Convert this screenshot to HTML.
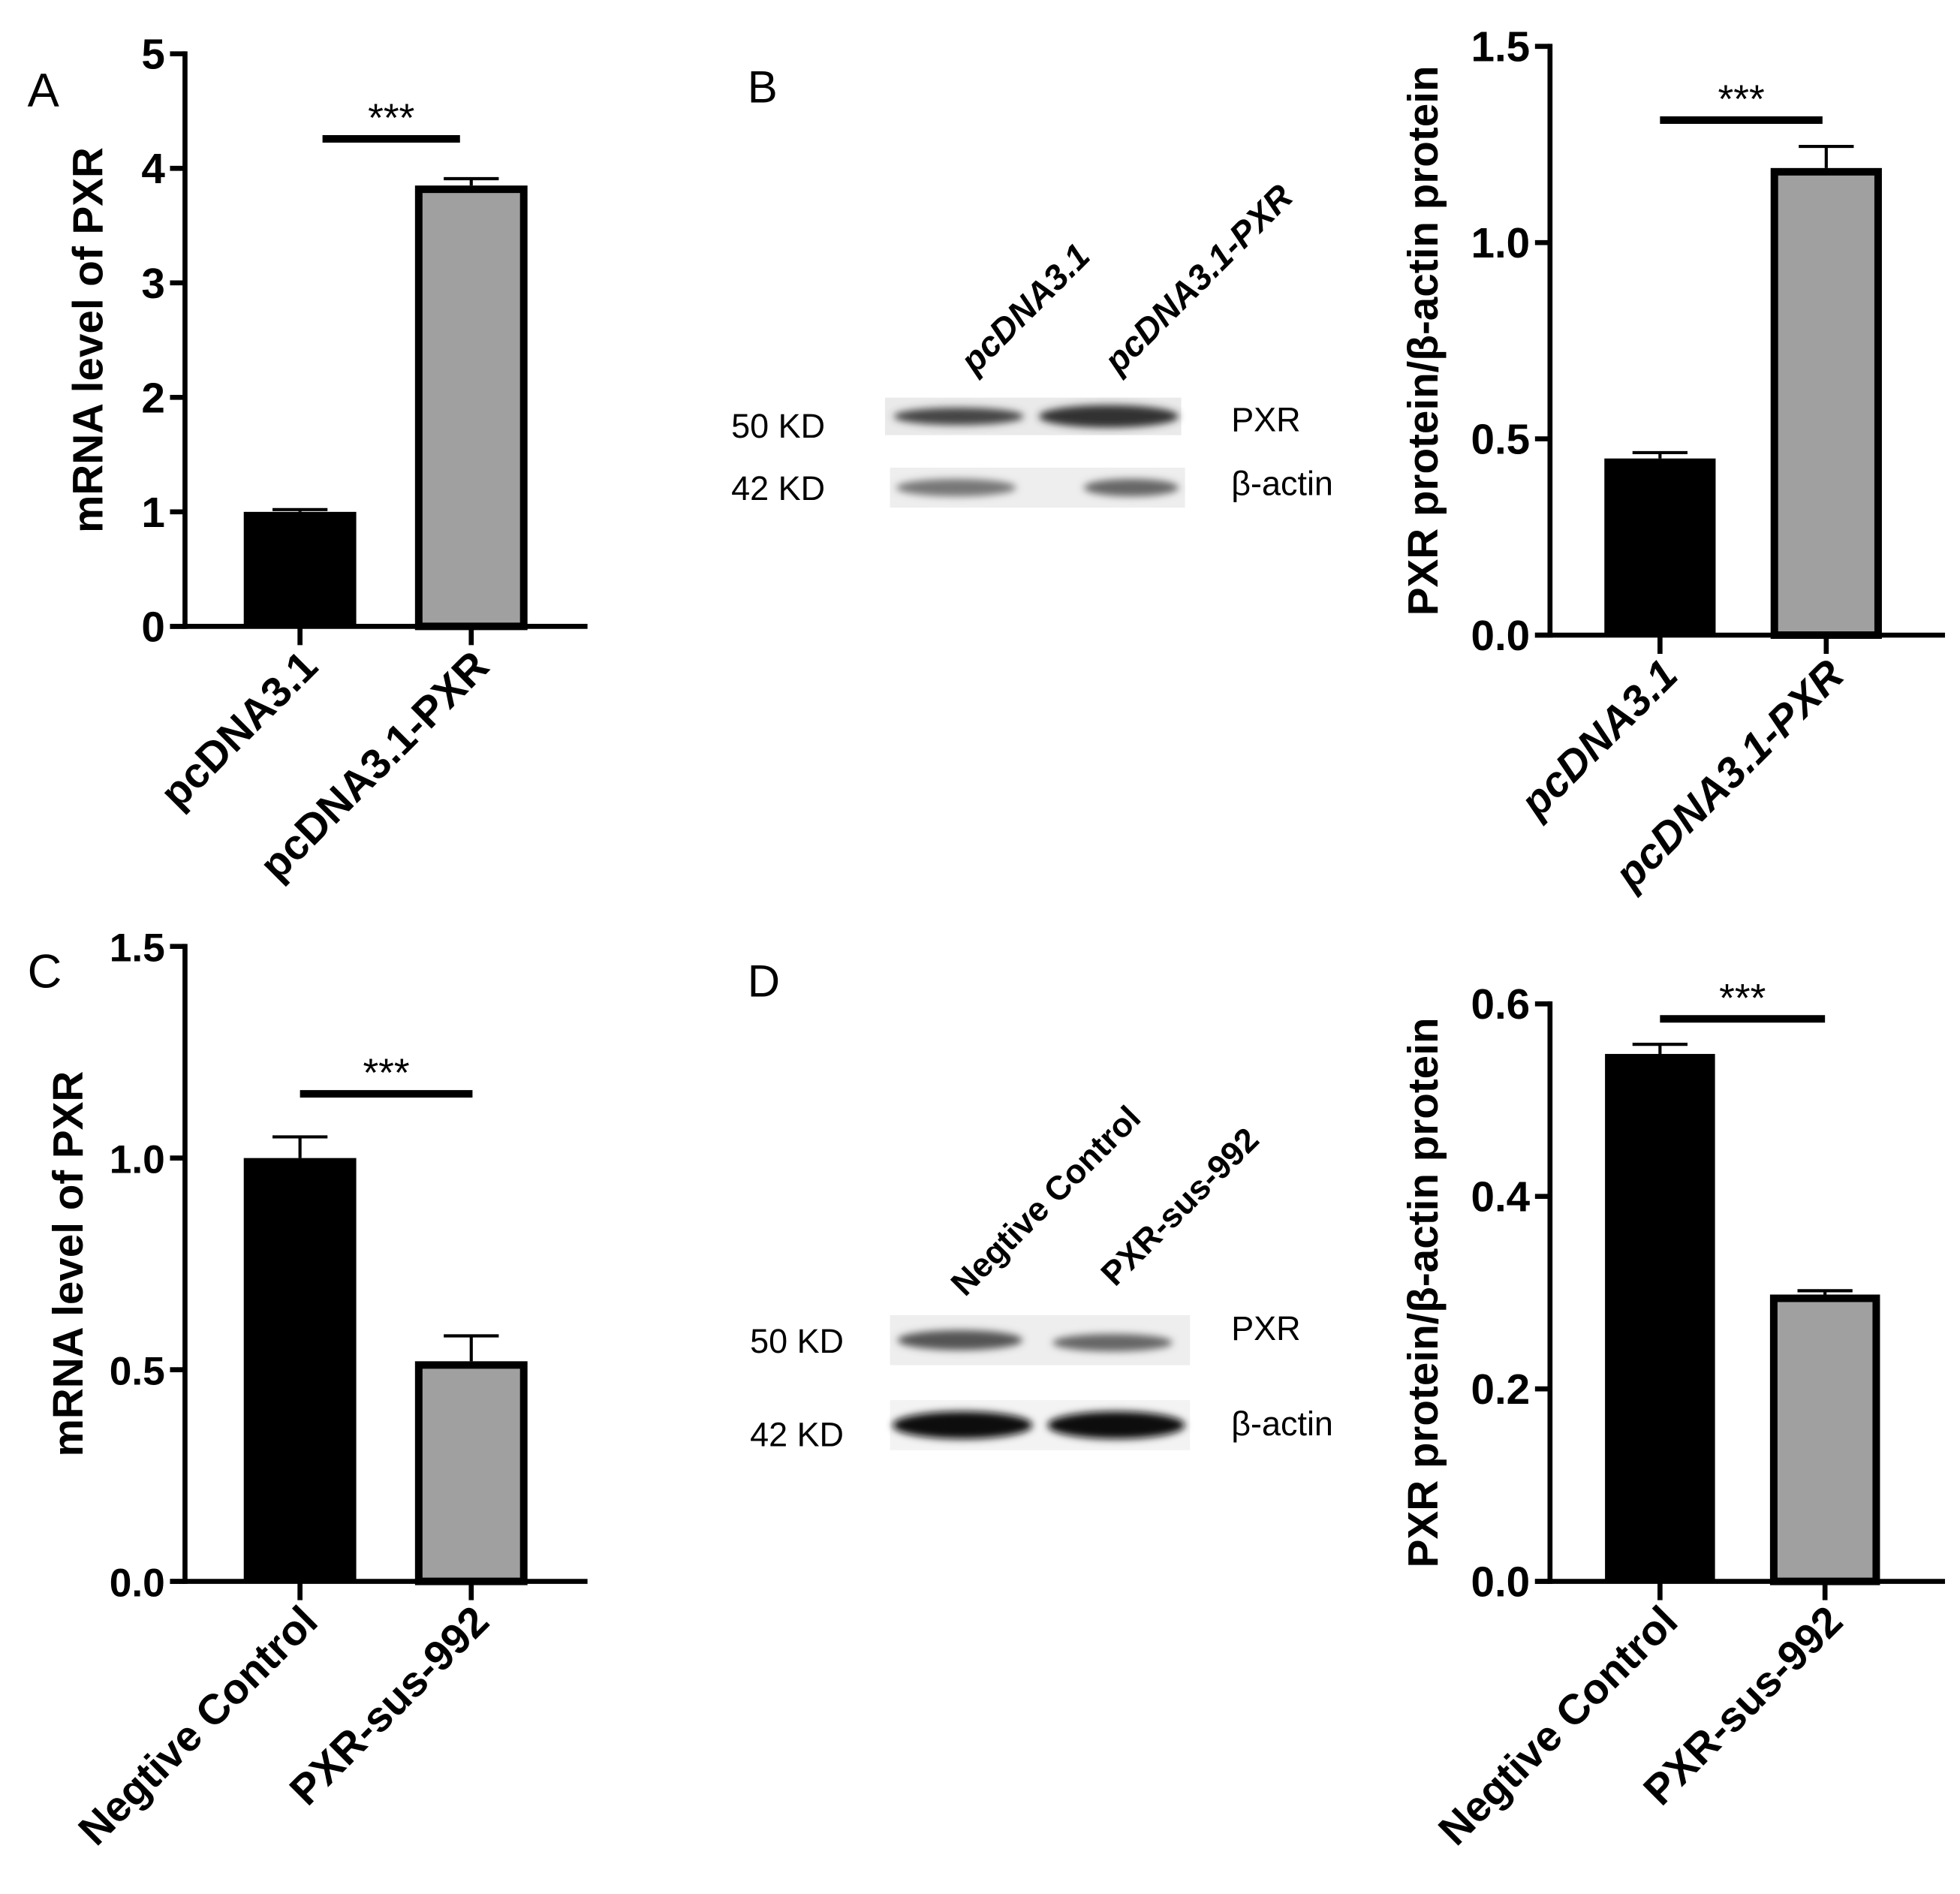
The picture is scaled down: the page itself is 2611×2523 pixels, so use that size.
<!DOCTYPE html>
<html><head><meta charset="utf-8"><style>
html,body{margin:0;padding:0;background:#fff}
svg{display:block}
text{font-family:"Liberation Sans",Arial,sans-serif}
</style></head><body>
<svg id="fig" width="2611" height="2523" viewBox="0 0 1568 1515" xmlns="http://www.w3.org/2000/svg">
<defs><filter id="blur" x="-20%" y="-50%" width="140%" height="200%"><feGaussianBlur stdDeviation="3"/></filter></defs>
<g id="panels"></g>
<g>
<text x="598" y="82" font-size="36">B</text>
<text transform="translate(780,300) rotate(-45)" font-size="28" font-style="italic" font-weight="bold">pcDNA3.1</text>
<text transform="translate(895,300) rotate(-45)" font-size="28" font-style="italic" font-weight="bold">pcDNA3.1-PXR</text>
<text x="585" y="350" font-size="27">50 KD</text>
<text x="585" y="400" font-size="27">42 KD</text>
<rect x="708" y="318" width="237" height="30" fill="#eaeaea"/>
<ellipse cx="767" cy="333" rx="52" ry="7" fill="#444" filter="url(#blur)"/>
<ellipse cx="887" cy="333" rx="56" ry="9" fill="#333" filter="url(#blur)"/>
<rect x="712" y="374" width="236" height="32" fill="#eeeeee"/>
<ellipse cx="765" cy="390" rx="48" ry="7" fill="#777" filter="url(#blur)"/>
<ellipse cx="905" cy="390" rx="38" ry="7" fill="#666" filter="url(#blur)"/>
<text x="985" y="345" font-size="27">PXR</text>
<text x="985" y="396" font-size="27">β-actin</text>
</g>
<g>
<text x="598" y="797" font-size="36">D</text>
<text transform="translate(772,1038) rotate(-45)" font-size="27" font-weight="bold">Negtive Control</text>
<text transform="translate(892,1030) rotate(-45)" font-size="27" font-weight="bold">PXR-sus-992</text>
<text x="600" y="1082" font-size="27">50 KD</text>
<text x="600" y="1157" font-size="27">42 KD</text>
<rect x="712" y="1052" width="240" height="40" fill="#eeeeee"/>
<ellipse cx="768" cy="1072" rx="50" ry="8" fill="#555" filter="url(#blur)"/>
<ellipse cx="890" cy="1074" rx="48" ry="7" fill="#666" filter="url(#blur)"/>
<rect x="712" y="1120" width="240" height="40" fill="#f3f3f3"/>
<ellipse cx="770" cy="1140" rx="56" ry="11" fill="#111" filter="url(#blur)"/>
<ellipse cx="893" cy="1140" rx="55" ry="11" fill="#111" filter="url(#blur)"/>
<text x="985" y="1072" font-size="27">PXR</text>
<text x="985" y="1148" font-size="27">β-actin</text>
</g>
</svg>
<script>
// Panel A
const catsA = ["pcDNA3.1", "pcDNA3.1-PXR"];
const valsA = [1.0, 3.85];
const errsA = [0.02, 0.06];
const ticksA = ["0", "1", "2", "3", "4", "5"];
// Panel B
const catsB = ["pcDNA3.1", "pcDNA3.1-PXR"];
const valsB = [0.45, 1.19];
const errsB = [0.015, 0.055];
const ticksB = ["0.0", "0.5", "1.0", "1.5"];
// Panel C
const catsC = ["Negtive Control", "PXR-sus-992"];
const valsC = [1.0, 0.52];
const errsC = [0.05, 0.06];
const ticksC = ["0.0", "0.5", "1.0", "1.5"];
// Panel D
const catsD = ["Negtive Control", "PXR-sus-992"];
const valsD = [0.548, 0.298];
const errsD = [0.01, 0.004];
const ticksD = ["0.0", "0.2", "0.4", "0.6"];

const NS = "http://www.w3.org/2000/svg";
const root = document.getElementById("panels");
function mk(tag, attrs, parent) {
  const e = document.createElementNS(NS, tag);
  for (const k in attrs) e.setAttribute(k, attrs[k]);
  (parent || root).appendChild(e);
  return e;
}
function chart(cfg, cats, vals, errs, ticks) {
  const g = mk("g", {});
  
  
  const ymax = parseFloat(ticks[ticks.length - 1]);
  const y = v => cfg.y0 - (v / ymax) * (cfg.y0 - cfg.y1);
  const xs = cfg.xs;
  cats.forEach((c, i) => {
    const top = y(vals[i]);
    const et = y(vals[i] + errs[i]);
    const el = mk("line", {x1: xs[i], x2: xs[i], y1: top, y2: et, stroke: "#000", "stroke-width": 2.5}, g);
    
    
    const cap = mk("line", {x1: xs[i] - 22, x2: xs[i] + 22, y1: et, y2: et, stroke: "#000", "stroke-width": 2.5}, g);
    
    
    let b;
    if (i === 0) {
      b = mk("rect", {x: xs[i] - cfg.bw / 2, y: top, width: cfg.bw, height: cfg.y0 - top, fill: "#000"}, g);
    } else {
      b = mk("rect", {x: xs[i] - cfg.bw / 2 + 3, y: top + 3, width: cfg.bw - 6, height: cfg.y0 - top - 3, fill: "#a0a0a0", stroke: "#000", "stroke-width": 6}, g);
    }
    
    
    const tk = mk("line", {x1: xs[i], x2: xs[i], y1: cfg.y0, y2: cfg.y0 + 15, stroke: "#000", "stroke-width": 4}, g);
    
    
    const t = mk("text", {transform: `translate(${xs[i] + 16},${cfg.y0 + 34}) rotate(-45)`, "text-anchor": "end", "font-size": 34, "font-weight": "bold", "font-style": cfg.italic ? "italic" : "normal"}, g);
    t.textContent = c;
    
    
  });
  const ya = mk("line", {x1: cfg.ax, x2: cfg.ax, y1: cfg.y1 - 2, y2: cfg.y0 + 2, stroke: "#000", "stroke-width": 4}, g);
  
  
  const xa = mk("line", {x1: cfg.ax - 12, x2: cfg.xend, y1: cfg.y0, y2: cfg.y0, stroke: "#000", "stroke-width": 4}, g);
  
  
  ticks.forEach(tl => {
    const yy = y(parseFloat(tl));
    const l = mk("line", {x1: cfg.ax - 12, x2: cfg.ax, y1: yy, y2: yy, stroke: "#000", "stroke-width": 4}, g);
    
    
    const t = mk("text", {x: cfg.ax - 16, y: yy + 12, "text-anchor": "end", "font-size": cfg.tfs || 34, "font-weight": "bold"}, g);
    t.textContent = tl;
    
    
  });
  const tt = mk("text", {transform: `translate(${cfg.tx},${(cfg.y0 + cfg.y1) / 2}) rotate(-90)`, "text-anchor": "middle", "font-size": 34, "font-weight": "bold"}, g);
  tt.textContent = cfg.title;
  
  
  const sl = mk("line", {x1: cfg.sig[0], x2: cfg.sig[1], y1: cfg.sig[2], y2: cfg.sig[2], stroke: "#000", "stroke-width": 6}, g);
  
  
  const st = mk("text", {x: (cfg.sig[0] + cfg.sig[1]) / 2, y: cfg.sig[2] - 6, "text-anchor": "middle", "font-size": 32}, g);
  st.textContent = "***";
  
  
  if (cfg.label) {
    const pl = mk("text", {x: cfg.label[1], y: cfg.label[2], "font-size": 38}, g);
    pl.textContent = cfg.label[0];
    
    
  }
}
chart({name: "chart-a", ax: 148, y0: 501, y1: 43, xs: [240, 377], bw: 90, xend: 470, tx: 82, title: "mRNA level of PXR", sig: [258, 368, 111], label: ["A", 22, 85]}, catsA, valsA, errsA, ticksA);
chart({name: "chart-b", ax: 1240, y0: 508, y1: 37, xs: [1328, 1461], bw: 89, xend: 1556, tx: 1150, title: "PXR protein/β-actin protein", sig: [1328, 1458, 96], italic: true}, catsB, valsB, errsB, ticksB);
chart({name: "chart-c", ax: 148, y0: 1265, y1: 757, xs: [240, 377], bw: 90, xend: 470, tx: 66, tfs: 32, title: "mRNA level of PXR", sig: [240, 378, 875], label: ["C", 22, 790]}, catsC, valsC, errsC, ticksC);
chart({name: "chart-d", ax: 1240, y0: 1265, y1: 803, xs: [1328, 1460], bw: 88, xend: 1556, tx: 1150, title: "PXR protein/β-actin protein", sig: [1328, 1460, 815]}, catsD, valsD, errsD, ticksD);
</script>
</body></html>
